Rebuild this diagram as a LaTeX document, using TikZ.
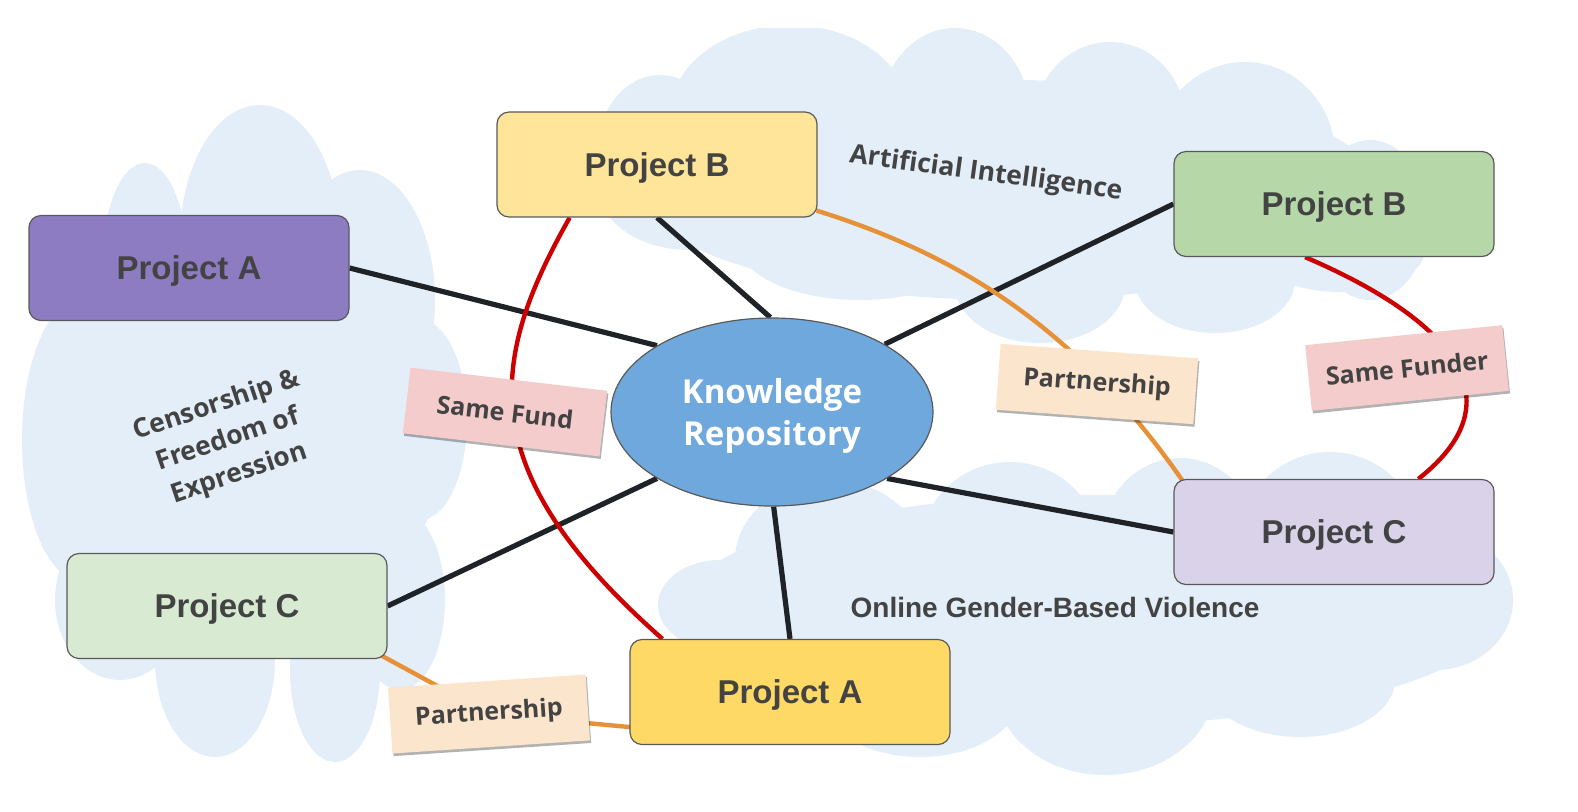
\documentclass[tikz,border=0pt]{standalone}
\usepackage{fontspec}
\setmainfont{Open Sans}
\newfontfamily\boxfont{Liberation Sans}
\usetikzlibrary{shapes.geometric,calc,shadows}
\definecolor{cloudc}{HTML}{E3EEF8}
\definecolor{txt}{HTML}{434343}
\definecolor{bord}{HTML}{595959}
\definecolor{edgek}{HTML}{1F2328}
\definecolor{redc}{HTML}{CC0000}
\definecolor{orc}{HTML}{E69138}
\definecolor{purp}{HTML}{8E7CC3}
\definecolor{yel}{HTML}{FFE599}
\definecolor{gold}{HTML}{FFD966}
\definecolor{grn}{HTML}{B6D7A8}
\definecolor{lgrn}{HTML}{D9EAD3}
\definecolor{lav}{HTML}{D9D2E9}
\definecolor{blu}{HTML}{6FA8DC}
\definecolor{pinkc}{HTML}{F4CCCC}
\definecolor{peach}{HTML}{FCE5CD}
\pgfdeclarelayer{clouds}
\pgfdeclarelayer{edges}
\pgfsetlayers{clouds,edges,main}
\begin{document}
\begin{tikzpicture}[x=0.5pt,y=-0.5pt,
  projbox/.style={draw=bord, line width=0.6pt, rounded corners=6pt,
    minimum width=160pt, minimum height=52.5pt, inner sep=0pt, text depth=0pt,
    font=\boxfont\bfseries\fontsize{16.5}{18}\selectfont, text=txt},
  lab/.style={minimum width=99pt, minimum height=33pt, inner sep=0pt,
    font=\bfseries\fontsize{12.5}{14}\selectfont, text=txt,
    drop shadow={shadow xshift=0.6pt, shadow yshift=-1.3pt, opacity=0.3, fill=black}},
  kline/.style={edgek, line width=2.6pt},
  rline/.style={redc, line width=2.2pt},
  oline/.style={orc, line width=2.2pt},
  topic/.style={text=txt, font=\bfseries\fontsize{13.2}{18}\selectfont, inner sep=0pt}
]
\useasboundingbox (0,0) rectangle (1578,811);

% clouds
\begin{pgfonlayer}{clouds}
\begin{scope}
\clip (0,28) rectangle (1578,775);
\fill[cloudc]
  % left cloud
  (240,430) ellipse [x radius=210, y radius=200]
  (260,240) ellipse [x radius=80, y radius=135]
  (145,260) ellipse [x radius=42, y radius=97]
  (360,300) ellipse [x radius=75, y radius=130]
  (420,420) ellipse [x radius=47, y radius=100]
  (400,600) ellipse [x radius=45, y radius=90]
  (335,670) ellipse [x radius=45, y radius=92]
  (215,660) ellipse [x radius=60, y radius=97]
  (120,600) ellipse [x radius=65, y radius=80]
  (80,440) ellipse [x radius=58, y radius=140]
  % top right cloud
  (1010,190) ellipse [x radius=370, y radius=110]
  (660,150) ellipse [x radius=62, y radius=75]
  (790,115) ellipse [x radius=120, y radius=90]
  (955,115) ellipse [x radius=75, y radius=87]
  (1110,120) ellipse [x radius=75, y radius=78]
  (1245,155) ellipse [x radius=90, y radius=93]
  (1370,220) ellipse [x radius=58, y radius=80]
  (1340,250) ellipse [x radius=85, y radius=42]
  (1215,280) ellipse [x radius=80, y radius=53]
  (1040,285) ellipse [x radius=85, y radius=58]
  (860,245) ellipse [x radius=120, y radius=55]
  (690,190) ellipse [x radius=90, y radius=60]
  % bottom right cloud
  (1090,610) ellipse [x radius=410, y radius=115]
  (720,605) ellipse [x radius=62, y radius=45]
  (830,560) ellipse [x radius=95, y radius=80]
  (1010,550) ellipse [x radius=90, y radius=88]
  (1180,545) ellipse [x radius=80, y radius=87]
  (1330,540) ellipse [x radius=90, y radius=88]
  (1435,600) ellipse [x radius=78, y radius=70]
  (1300,680) ellipse [x radius=95, y radius=57]
  (1105,685) ellipse [x radius=110, y radius=90]
  (920,695) ellipse [x radius=100, y radius=62];
\end{scope}
\end{pgfonlayer}

% topic texts
\node[topic, rotate=-7.7] (tai) at (986,174) {Artificial Intelligence};
\node[topic, rotate=18.5, align=center] (tcf) at (228,440) {Censorship \&\\Freedom of\\Expression};
\node[topic, font=\boxfont\bfseries\fontsize{14}{16}\selectfont] (tog) at (1055,607) {Online Gender-Based Violence};

% main nodes
\node[ellipse, draw=bord, line width=0.6pt, fill=blu, minimum width=161pt, minimum height=94pt, inner sep=0pt,
  align=center, text depth=0pt, text=white, font=\bfseries\fontsize{16.5}{21}\selectfont] (ke) at (772,412) {Knowledge\\Repository};
\node[projbox, fill=purp] (pa) at (189,268) {Project A};
\node[projbox, fill=yel] (yb) at (657,164.5) {Project B};
\node[projbox, fill=grn] (gb) at (1334,204) {Project B};
\node[projbox, fill=lgrn] (lc) at (227,606) {Project C};
\node[projbox, fill=gold] (ga) at (790,692) {Project A};
\node[projbox, fill=lav] (rc) at (1334,532) {Project C};

% relation labels
\node[lab, fill=pinkc, rotate=-6.7] (sf) at (505,412) {Same Fund};
\node[lab, fill=peach, rotate=-4.2] (pr) at (1097,384) {Partnership};
\node[lab, fill=pinkc, rotate=5.8] (sfr) at (1407,368) {Same Funder};
\node[lab, fill=peach, rotate=3.8] (pl) at (489,714) {Partnership};

% connectors
\begin{pgfonlayer}{edges}
\draw[kline] (pa.east) -- (ke.150);
\draw[kline] (yb.south) -- (ke.91);
\draw[kline] (gb.west) -- (ke.31);
\draw[kline] (rc.west) -- (ke.-30);
\draw[kline] (ga.north) -- (ke.-89);
\draw[kline] (lc.east) -- (ke.210);
% red
\coordinate (r1a) at ($(yb.south west)!0.228!(yb.south east)$);
\coordinate (r1b) at ($(ga.north west)!0.103!(ga.north east)$);
\draw[rline] (r1a) .. controls ($(r1a)+(-80,142)$) and ($(r1b)+(-193,-170)$) .. (r1b);
\coordinate (r2a) at ($(gb.south west)!0.41!(gb.south east)$);
\coordinate (r2b) at ($(rc.north west)!0.7625!(rc.north east)$);
\draw[rline] (r2a) .. controls ($(r2a)+(145,62)$) and ($(r2b)+(102,-80)$) .. (r2b);
% orange
\coordinate (o1a) at ($(yb.south east)+(-1,-7)$);
\coordinate (o1b) at ($(rc.north west)+(10,3)$);
\draw[oline] (o1a) .. controls ($(o1a)+(144,45)$) and ($(o1b)+(-106,-153)$) .. (o1b);
\coordinate (o2a) at ($(lc.south east)+(-7,-4)$);
\coordinate (o2b) at ($(ga.south west)+(1,-18)$);
\draw[oline] (o2a) -- (pl.center) -- (o2b);
\end{pgfonlayer}
\end{tikzpicture}
\end{document}
